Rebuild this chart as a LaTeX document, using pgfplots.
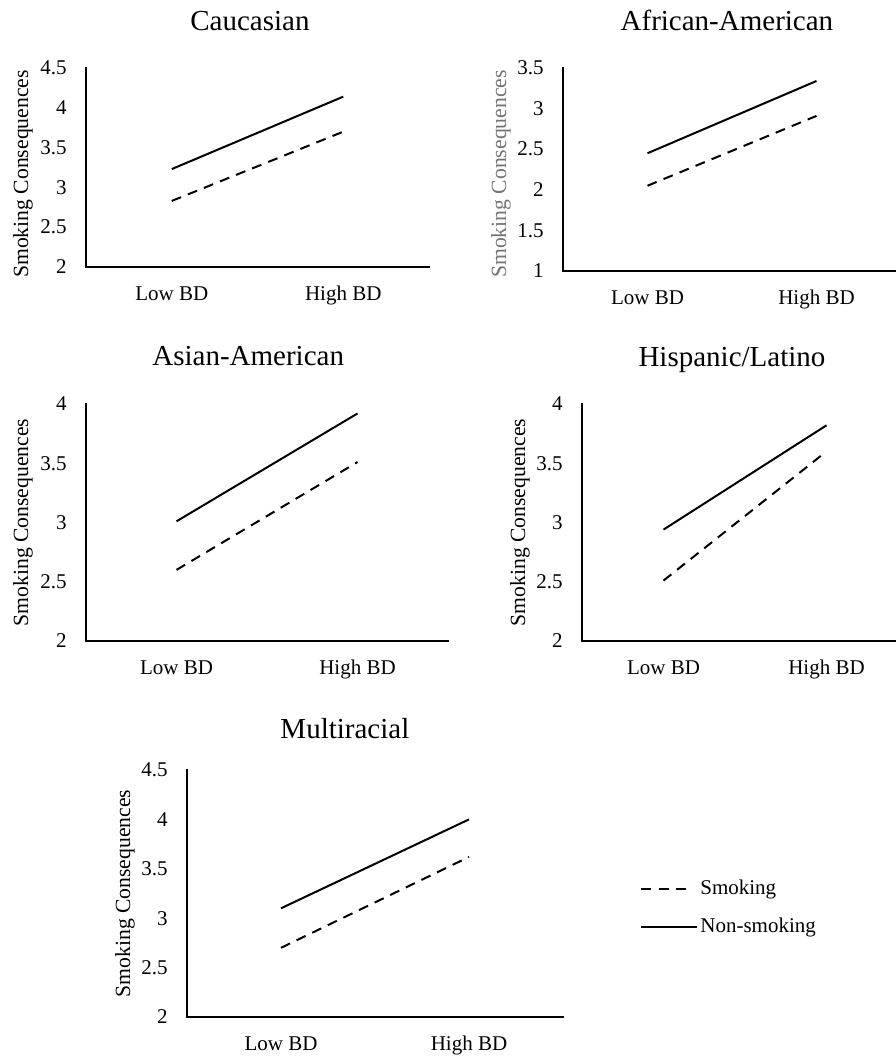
\documentclass[border=0pt]{standalone}
\usepackage{fontspec}
\setmainfont{Liberation Serif}
\usepackage{pgfplots}
\pgfplotsset{compat=1.18}

\newcommand{\fs}{\fontsize{15.75}{18}\selectfont}
\newcommand{\fl}{\fontsize{16.25}{18}\selectfont}
\newcommand{\ft}{\fontsize{21.75}{24}\selectfont}

\tikzset{
  sm/.style={black, line width=1.5pt, dash pattern=on 7.5pt off 5.5pt},
  ns/.style={black, line width=1.5pt},
}
\pgfplotsset{
  panel/.style={
    scale only axis,
    axis lines=left,
    axis line style={-, line width=1.6pt, line cap=rect},
    xmin=-0.5, xmax=1.5,
    xtick={0,1}, xticklabels={Low BD, High BD},
    major tick length=0pt,
    tick label style={font=\fs},
    /pgf/number format/assume math mode=true,
    xticklabel style={anchor=north, inner sep=0pt, yshift=-14.25pt},
    yticklabel style={anchor=east, inner sep=0pt, xshift=-14.25pt},
    ylabel={Smoking Consequences},
    clip=false,
    anchor=south west,
  },
  ylab/.style 2 args={every axis y label/.style={at={([xshift=#1,yshift=#2]axis description cs:0,0.5)}, rotate=90, anchor=center, font=\fl}},
  tstyle/.style 2 args={every axis title/.style={at={([yshift=#2]axis description cs:#1,1)}, anchor=base, font=\ft}},
  smleg/.style={legend image code/.code={\draw[sm] (0pt,0pt) -- (36pt,0pt); \path (42pt,0pt);}},
  nsleg/.style={legend image code/.code={\draw[ns] (0pt,0pt) -- (42pt,0pt);}},
}

\begin{document}
\begin{tikzpicture}
\useasboundingbox (0pt,0pt) rectangle (672pt,792.75pt);

% Caucasian
\begin{axis}[panel, at={(64.5pt,592.5pt)}, width=257.25pt, height=149.25pt,
  ymin=2, ymax=4.5, ytick={2,2.5,3,3.5,4,4.5},
  title={Caucasian}, tstyle={0.478}{27.75pt}, ylab={-47.25pt}{-4.9pt}]
\addplot[sm] coordinates {(0,2.83) (1,3.70)};
\addplot[ns] coordinates {(0,3.23) (1,4.14)};
\end{axis}

% African-American
\begin{axis}[panel, at={(422.25pt,589.5pt)}, width=253.5pt, height=152.25pt,
  ymin=1, ymax=3.5, ytick={1,1.5,2,2.5,3,3.5},
  title={African-American}, tstyle={0.485}{27.75pt}, ylab={-46.5pt}{-3.4pt},
  every axis y label/.append style={text={rgb,255:red,115;green,115;blue,115}}]
\addplot[sm] coordinates {(0,2.05) (1,2.91)};
\addplot[ns] coordinates {(0,2.45) (1,3.34)};
\end{axis}

% Asian-American
\begin{axis}[panel, at={(64.5pt,312pt)}, width=271.5pt, height=177.75pt,
  ymin=2, ymax=4, ytick={2,2.5,3,3.5,4},
  title={Asian-American}, tstyle={0.448}{28.5pt}, ylab={-47.25pt}{0pt}]
\addplot[sm] coordinates {(0,2.60) (1,3.51)};
\addplot[ns] coordinates {(0,3.01) (1,3.92)};
\end{axis}

% Hispanic/Latino
\begin{axis}[panel, at={(436.5pt,312pt)}, width=244.5pt, height=177.75pt,
  ymin=2, ymax=4, ytick={2,2.5,3,3.5,4},
  title={Hispanic/Latino}, tstyle={0.46}{28pt}, ylab={-46.5pt}{0pt}]
\addplot[sm] coordinates {(0,2.51) (1,3.60)};
\addplot[ns] coordinates {(0,2.94) (1,3.82)};
\end{axis}

% Multiracial
\begin{axis}[panel, at={(140.25pt,30pt)}, width=282pt, height=185.25pt,
  ymin=2, ymax=4.5, ytick={2,2.5,3,3.5,4,4.5},
  title={Multiracial}, tstyle={0.42}{23.25pt}, ylab={-46.5pt}{0pt},
  legend cell align=left,
  legend style={draw=none, fill=none, at={(axis description cs:1.205,0.441)}, anchor=west,
    inner sep=0pt, font=\fs, nodes={inner sep=0pt, text height=11pt, text depth=3.5pt},
    /tikz/row sep=14pt, /tikz/column sep=1.5pt}]
\addplot[sm, smleg] coordinates {(0,2.70) (1,3.62)};
\addlegendentry{Smoking}
\addplot[ns, nsleg] coordinates {(0,3.10) (1,4.00)};
\addlegendentry{Non-smoking}
\end{axis}
\end{tikzpicture}
\end{document}
